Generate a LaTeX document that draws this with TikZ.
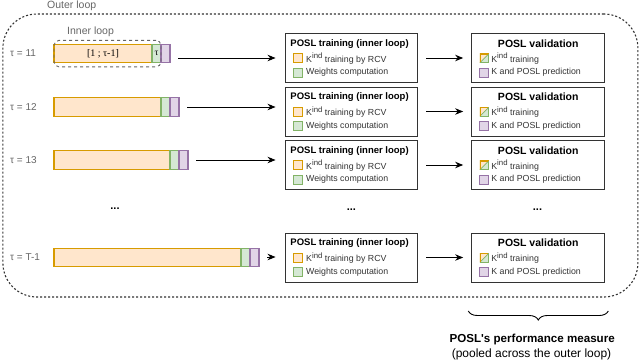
\documentclass[tikz,border=0pt]{standalone}
\usepackage{fontspec}
\setmainfont{Liberation Sans}
\newfontfamily\serifpart{Liberation Serif}
\usepackage{tikz}
\usetikzlibrary{arrows.meta,positioning,calc,decorations.pathreplacing}
\definecolor{orangefill}{HTML}{FFE6CC}
\definecolor{orangeline}{HTML}{D79B00}
\definecolor{greenfill}{HTML}{D5E8D4}
\definecolor{greenline}{HTML}{82B366}
\definecolor{purplefill}{HTML}{E1D5E7}
\definecolor{purpleline}{HTML}{9673A6}
\definecolor{boxline}{HTML}{333333}
\definecolor{labelgray}{HTML}{666666}

\begin{document}
\begin{tikzpicture}[x=1pt,y=-1pt,
  seg/.style={minimum height=18.4pt,inner sep=0pt,outer sep=0pt,line width=1.1pt},
  oseg/.style={seg,draw=orangeline,fill=orangefill},
  gseg/.style={seg,minimum width=9pt,draw=greenline,fill=greenfill},
  pseg/.style={seg,minimum width=9pt,draw=purpleline,fill=purplefill},
  stagebox/.style={draw=boxline,line width=0.9pt,minimum width=132.7pt,minimum height=49pt,inner sep=0pt},
  icon/.style={minimum size=9pt,inner sep=0pt,line width=0.8pt},
  oicon/.style={icon,draw=orangeline,fill=orangefill},
  gicon/.style={icon,draw=greenline,fill=greenfill},
  picon/.style={icon,draw=purpleline,fill=purplefill},
  halficon/.style={icon,path picture={
    \fill[orangefill] (path picture bounding box.south west) -- (path picture bounding box.north west) -- (path picture bounding box.north east) -- cycle;
    \fill[greenfill] (path picture bounding box.south west) -- (path picture bounding box.south east) -- (path picture bounding box.north east) -- cycle;
    \draw[greenline,line width=0.8pt] (path picture bounding box.south west) -- (path picture bounding box.north east);
    \draw[orangeline,line width=1.6pt] (path picture bounding box.south west) -- (path picture bounding box.north west) -- (path picture bounding box.north east);
    \draw[greenline,line width=1.6pt] (path picture bounding box.south west) -- (path picture bounding box.south east) -- (path picture bounding box.north east);}},
  legend/.style={inner sep=1pt,text=boxline,font=\fontsize{8.8}{10}\selectfont},
  trtitle/.style={inner sep=0pt,font=\fontsize{9.5}{11}\selectfont\bfseries},
  vatitle/.style={inner sep=0pt,font=\fontsize{10.5}{12}\selectfont\bfseries},
  looplabel/.style={inner sep=0pt,anchor=west,text=labelgray,font=\fontsize{10.5}{12}\selectfont},
  taulabel/.style={inner sep=0pt,anchor=west,text=labelgray,font=\fontsize{10}{12}\selectfont},
  dots/.style={inner sep=0pt,font=\fontsize{11}{12}\selectfont\bfseries},
  arrow/.style={-{Stealth[length=8pt,width=6.5pt]},line width=0.9pt}
]
\useasboundingbox (0,0) rectangle (640,362);

% outer and inner loops
\node[draw=boxline,dash pattern=on 2pt off 2pt,line width=1.1pt,rounded corners=34pt,
  minimum width=635pt,minimum height=283pt,inner sep=0pt] (outer) at (320.4,155.5) {};
\node[looplabel] (outerlabel) at (47,5.5) {Outer loop};

% one row per outer iteration
\foreach \i/\ry/\by/\ay/\ow/\tl in {1/58/53.5/58/98/11,2/111.5/107/107/107/12,3/165/160/160/116/13,4/257.5/257.5/257/187/T-1} {
  \node[oseg,minimum width=\ow pt,anchor=west] (o\i) at (54,\by) {};
  \node[gseg,right=0pt of o\i] (g\i) {};
  \node[pseg,right=0pt of g\i] (p\i) {};
  \node[taulabel] (tau\i) at (10,\by) {τ = \tl};
  \node[stagebox] (tr\i) at (351.35,\ry) {};
  \node[stagebox,right=53.3pt of tr\i] (va\i) {};
  \node[trtitle,anchor=west] (trt\i) at ($(tr\i.north west)+(5.7,11)$) {POSL training (inner loop)};
  \node[oicon] (tk\i) at ($(tr\i.north west)+(13,25.3)$) {};
  \node[legend,right=2.5pt of tk\i] (tkl\i) {K\raisebox{3.5pt}{\fontsize{7.8}{8}\selectfont ind} training by RCV};
  \node[gicon] (tw\i) at ($(tr\i.north west)+(13,39.5)$) {};
  \node[legend,right=2.5pt of tw\i] (twl\i) {Weights computation};
  \node[vatitle] (vat\i) at ($(va\i.north)+(0,10.5)$) {POSL validation};
  \node[halficon] (vk\i) at ($(va\i.north west)+(12.8,25.3)$) {};
  \node[legend,right=1pt of vk\i] (vkl\i) {K\raisebox{3.5pt}{\fontsize{7.8}{8}\selectfont ind} training};
  \node[picon] (vp\i) at ($(va\i.north west)+(12.8,39.5)$) {};
  \node[legend,right=1pt of vp\i] (vpl\i) {K and POSL prediction};
  \coordinate (ar\i) at (0,\ay);
  \draw[arrow,shorten <=8pt,shorten >=9pt] (p\i.east |- ar\i) -- (tr\i.west |- ar\i);
  \draw[arrow,shorten <=8.3pt,shorten >=8.3pt] (tr\i) -- (va\i);
}

\node[draw=labelgray,dashed,line width=0.9pt,rounded corners=5pt,
  minimum width=107pt,minimum height=26.5pt,inner sep=0pt] (inner) at (107.5,53.6) {};
\node[looplabel] (innerlabel) at (67,31.5) {Inner loop};
\node[inner sep=0pt,font=\serifpart\fontsize{10}{12}\selectfont] (past) at (o1) {[1 ; τ-1]};
\node[inner sep=0pt,font=\serifpart\fontsize{9.5}{12}\selectfont] (now) at (g1) {τ};

\node[dots] (dotsbar) at (115,209) {...};
\node[dots] (dotstr) at (351.35,210) {...};
\node[dots] (dotsva) at (537.5,210) {...};

% pooled measure
\coordinate (bracel) at (468.3,311);
\coordinate (bracer) at (608.3,311);
\draw[decorate,decoration={brace,mirror,amplitude=9pt},line width=0.9pt] (bracel) -- (bracer);
\node[inner sep=0pt,font=\fontsize{11.6}{14}\selectfont\bfseries] (measure) at (532.2,339) {POSL\textquotesingle s performance measure};
\node[inner sep=0pt,font=\fontsize{12}{14}\selectfont] (pooled) at (531.5,354) {(pooled across the outer loop)};
\end{tikzpicture}
\end{document}
